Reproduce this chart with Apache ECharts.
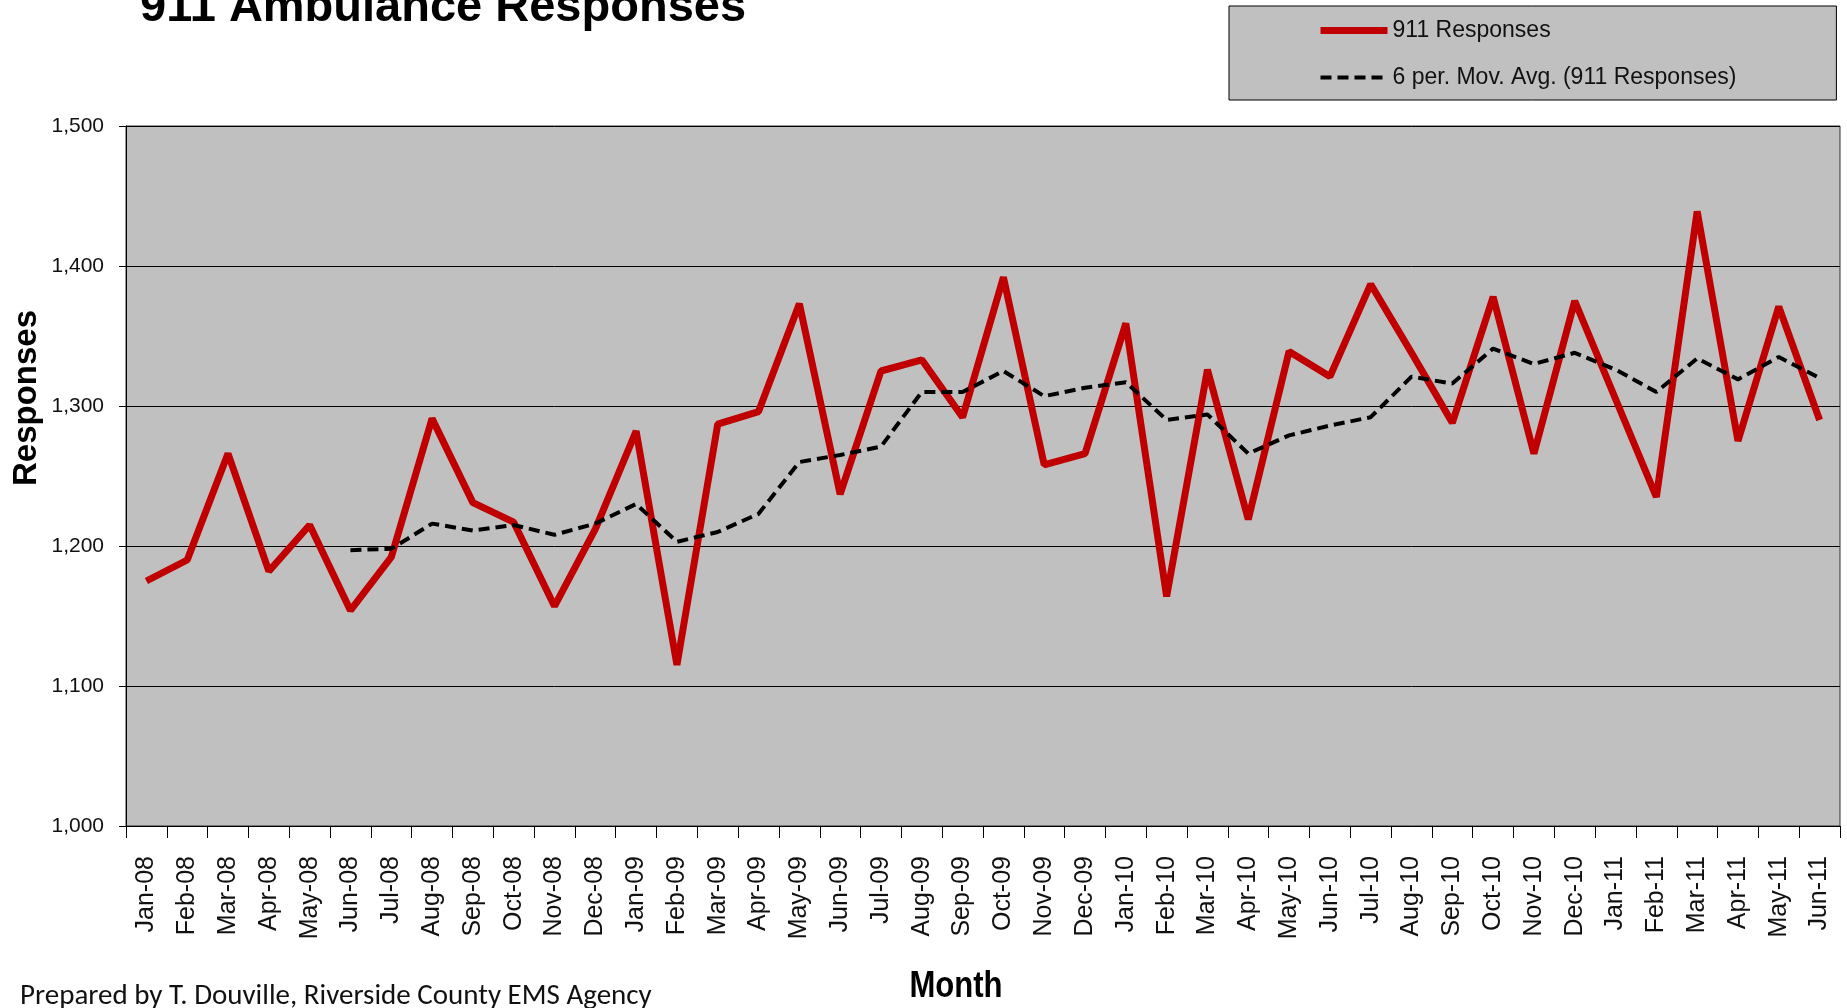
<!DOCTYPE html>
<html>
<head>
<meta charset="utf-8">
<style>
html,body{margin:0;padding:0;background:#fff;}
#chart{width:1847px;height:1008px;}
</style>
<script src="https://cdn.jsdelivr.net/npm/echarts@6/dist/echarts.min.js"></script>
</head>
<body>
<div id="chart"></div>
<script>
const months = ['Jan-08','Feb-08','Mar-08','Apr-08','May-08','Jun-08','Jul-08','Aug-08','Sep-08','Oct-08','Nov-08','Dec-08',
  'Jan-09','Feb-09','Mar-09','Apr-09','May-09','Jun-09','Jul-09','Aug-09','Sep-09','Oct-09','Nov-09','Dec-09',
  'Jan-10','Feb-10','Mar-10','Apr-10','May-10','Jun-10','Jul-10','Aug-10','Sep-10','Oct-10','Nov-10','Dec-10',
  'Jan-11','Feb-11','Mar-11','Apr-11','May-11','Jun-11'];
const responses = [1175,1190,1266,1182,1215,1154,1192,1291,1231,1217,1157,1212,
  1282,1115,1287,1296,1373,1237,1325,1333,1292,1392,1258,1266,
  1359,1164,1326,1219,1339,1321,1387,1338,1288,1378,1266,1375,
  1305,1235,1439,1275,1371,1290];
const movAvg = [null,null,null,null,null,1197,1198,1216,1211,1215,1208,1216,
  1230,1203,1210,1223,1260,1265,1271,1310,1310,1325,1307,1313,
  1317,1290,1294,1266,1279,1286,1292,1321,1316,1341,1330,1338,
  1326,1310,1334,1319,1335,1320];
const yTicks = {min:1000, max:1500, interval:100};

const chart = echarts.init(document.getElementById('chart'), null, {renderer:'canvas'});
chart.setOption({
  animation:false,
  backgroundColor:'#ffffff',
  grid:{left:126, right:7, top:126, bottom:182, show:true, backgroundColor:'#C0C0C0', borderColor:'#303030', borderWidth:1},
  legend:{
    orient:'vertical', left:1229, top:6,
    backgroundColor:'#C0C0C0', borderColor:'#000', borderWidth:1,
    padding:[13,100,11,88], itemGap:24, itemWidth:67, itemHeight:20,
    itemStyle:{opacity:0},
    textStyle:{fontFamily:'Liberation Sans, Arial, sans-serif', fontSize:23, color:'#111'},
    data:[
      {name:'911 Responses', lineStyle:{width:7}, itemStyle:{opacity:0}},
      {name:'6 per. Mov. Avg. (911 Responses)', lineStyle:{width:4}, itemStyle:{opacity:0}}
    ]
  },
  xAxis:{
    type:'category', data:months, boundaryGap:true,
    axisLine:{lineStyle:{color:'#000', width:1}},
    axisTick:{show:true, length:12, lineStyle:{color:'#000'}},
    axisLabel:{rotate:90, margin:30, fontFamily:'Liberation Sans, Arial, sans-serif', fontSize:25, color:'#111', interval:0},
    splitLine:{show:false}
  },
  yAxis:{
    type:'value', min:yTicks.min, max:yTicks.max, interval:yTicks.interval,
    axisLine:{show:true, lineStyle:{color:'#000', width:1}},
    axisTick:{show:true, length:7, lineStyle:{color:'#000'}},
    axisLabel:{margin:22, fontFamily:'Liberation Sans, Arial, sans-serif', fontSize:21, color:'#111',
      formatter:v=>v.toLocaleString('en-US')},
    splitLine:{show:true, lineStyle:{color:'#000', width:1}}
  },
  series:[
    {name:'911 Responses', type:'line', data:responses, symbol:'none', z:2,
      lineStyle:{color:'#C00000', width:7}, itemStyle:{color:'#C00000'}},
    {name:'6 per. Mov. Avg. (911 Responses)', type:'line', data:movAvg, symbol:'none', z:3, connectNulls:false,
      lineStyle:{color:'#000', width:4, type:[11,6]}, itemStyle:{color:'#000'}}
  ],
  graphic:[
    {type:'text', x:140, y:8, style:{text:'911 Ambulance Responses', fontFamily:'Liberation Sans, Arial, sans-serif', fontWeight:'bold', fontSize:47, fill:'#000', textVerticalAlign:'middle', textAlign:'left'}},
    {type:'text', x:27, y:398, rotation:Math.PI/2, style:{text:'Responses', fontFamily:'Liberation Sans, Arial, sans-serif', fontWeight:'bold', fontSize:33, fill:'#000', textAlign:'center', textVerticalAlign:'middle'}},
    {type:'text', x:956, y:987, scaleX:0.84, style:{text:'Month', fontFamily:'Liberation Sans, Arial, sans-serif', fontWeight:'bold', fontSize:37, fill:'#000', textAlign:'center', textVerticalAlign:'middle'}},
    {type:'text', x:20, y:997, style:{text:'Prepared by T. Douville, Riverside County EMS Agency', fontFamily:'Carlito, Lato, sans-serif', fontSize:29, fill:'#111', textAlign:'left', textVerticalAlign:'middle'}}
  ]
});
</script>
</body>
</html>
